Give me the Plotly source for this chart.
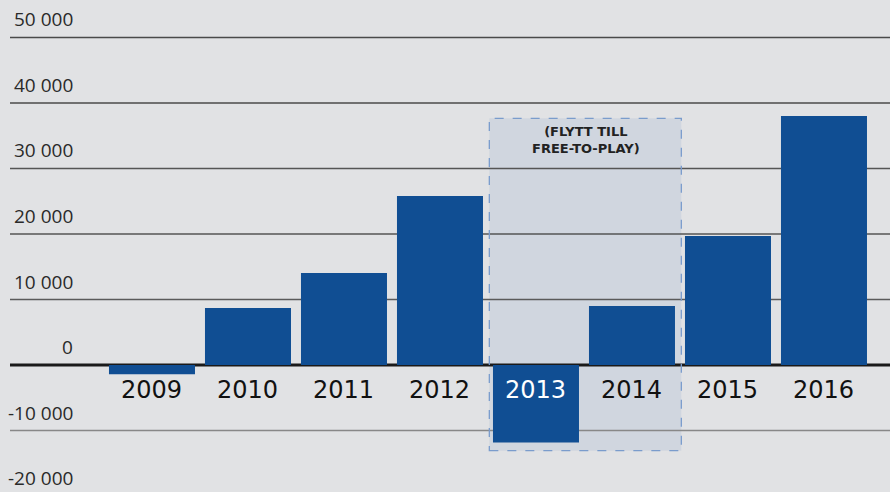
import plotly.graph_objects as go

years = ["2009", "2010", "2011", "2012", "2013", "2014", "2015", "2016"]
values = [-1400, 8700, 14050, 25800, -11850, 9000, 19700, 38000]
year_label_colors = ["#111111", "#111111", "#111111", "#111111", "#ffffff", "#111111", "#111111", "#111111"]
tick_vals = [50000, 40000, 30000, 20000, 10000, 0, -10000, -20000]
tick_text = ["50 000", "40 000", "30 000", "20 000", "10 000", "0", "-10 000", "-20 000"]
grid_colors = ["#4a4a4a", "#4a4a4a", "#555555", "#555555", "#5a5a5a", "#1a1a1a", "#888888", "#888888"]
grid_widths = [1.5, 1.5, 1.5, 1.5, 1.5, 3, 1.5, 1.5]
highlight_text = "(FLYTT TILL<br>FREE-TO-PLAY)"
highlight_years = ["2013", "2014"]

BG = "#e1e2e4"
BAR = "#104e93"

fig = go.Figure()
fig.add_trace(go.Bar(x=list(range(len(years))), y=values, marker=dict(color=BAR, line=dict(width=0)),
                     hoverinfo="skip"))

W, L = 890, 10
plot_w = W - L
x_start = -1.479
x_end = x_start + plot_w / 96.0

# y mapping: zero at 365 px, 65.5 px per 10000, height 492
y_top = 365 / 65.5 * 10000
y_bot = -(492 - 365) / 65.5 * 10000

fig.update_layout(
    width=890, height=492,
    margin=dict(l=L, r=0, t=0, b=0),
    paper_bgcolor=BG, plot_bgcolor=BG,
    bargap=0.104,
    showlegend=False,
    xaxis=dict(range=[x_start, x_end], showticklabels=False, showgrid=False, zeroline=False,
               ticks="", fixedrange=True),
    yaxis=dict(range=[y_bot, y_top], showticklabels=False, ticks="",
               showgrid=False, zeroline=False, fixedrange=True),
)

i0 = years.index(highlight_years[0])
i1 = years.index(highlight_years[-1])
shapes = []
# highlight region fill
shapes.append(dict(type="rect", xref="x", yref="y", x0=i0 - 0.486, x1=i1 + 0.514, y0=-13080, y1=37660,
                   fillcolor="#d0d6df", line=dict(width=0), layer="below"))
# gridlines
for v, c, w in zip(tick_vals, grid_colors, grid_widths):
    if y_bot <= v <= y_top:
        shapes.append(dict(type="line", xref="x", yref="y", x0=x_start, x1=x_end, y0=v, y1=v,
                           line=dict(color=c, width=w), layer="below"))
# dashed border
shapes.append(dict(type="rect", xref="x", yref="y", x0=i0 - 0.486, x1=i1 + 0.514, y0=-13080, y1=37660,
                   fillcolor="rgba(0,0,0,0)", line=dict(color="#7a9ccc", width=1.3, dash="dash"), layer="below"))
fig.update_layout(shapes=shapes)

# y tick labels (paper coords so out-of-range labels still show)
for v, t in zip(tick_vals, tick_text):
    fig.add_annotation(x=(75 - L) / plot_w, xref="paper", y=(v - y_bot) / (y_top - y_bot), yref="paper",
                       text=t, showarrow=False, xanchor="right", yanchor="bottom", yshift=3,
                       font=dict(family="Open Sans", size=19, color="#2a2a2a"))

# year labels
for i, (yr, c) in enumerate(zip(years, year_label_colors)):
    fig.add_annotation(x=i, y=-3890, xref="x", yref="y", text=yr, showarrow=False,
                       xanchor="center", yanchor="middle",
                       font=dict(family="DejaVu Sans", size=24, color=c))

fig.add_annotation(x=(i0 + i1) / 2 + 0.02, y=34400, xref="x", yref="y", text="<b>" + highlight_text + "</b>",
                   showarrow=False, xanchor="center", yanchor="middle", align="center",
                   font=dict(family="DejaVu Sans", size=13, color="#222222"))

fig.write_html("out.html", config={"displayModeBar": False},
               post_script="document.body.style.margin='0';document.body.style.overflow='hidden';")
